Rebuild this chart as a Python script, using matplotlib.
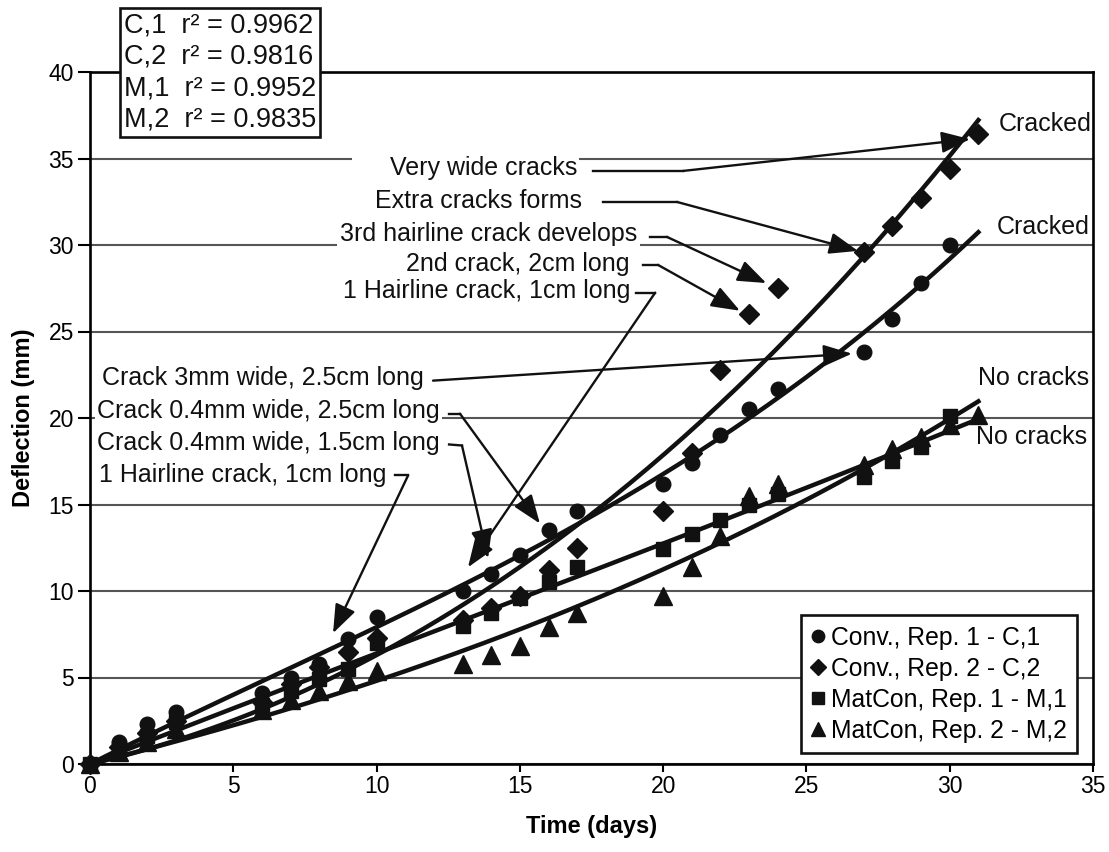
import numpy as np
import matplotlib
matplotlib.use('Agg')
import matplotlib.pyplot as plt
from matplotlib.lines import Line2D

plt.rcParams['font.family'] = ['Liberation Sans', 'DejaVu Sans']

# days of measurement
days_c1 = [0, 1, 2, 3, 6, 7, 8, 9, 10, 13, 14, 15, 16, 17, 20, 21, 22, 23, 24, 27, 28, 29, 30]
days_c2 = [0, 1, 2, 3, 6, 7, 8, 9, 10, 13, 14, 15, 16, 17, 20, 21, 22, 23, 24, 27, 28, 29, 30, 31]
days_m1 = [0, 1, 2, 3, 6, 7, 8, 9, 10, 13, 14, 15, 16, 17, 20, 21, 22, 23, 24, 27, 28, 29, 30]
days_m2 = [0, 1, 2, 3, 6, 7, 8, 9, 10, 13, 14, 15, 16, 17, 20, 21, 22, 23, 24, 27, 28, 29, 30, 31]

# deflection (mm)
defl_c1 = [0, 1.3, 2.3, 3.0, 4.1, 5.0, 5.8, 7.2, 8.5, 10.0, 11.0, 12.1, 13.5, 14.6, 16.2, 17.4,
           19.0, 20.5, 21.7, 23.8, 25.7, 27.8, 30.0]
defl_c2 = [0, 1.0, 1.8, 2.5, 3.6, 4.6, 5.6, 6.5, 7.3, 8.3, 9.0, 9.7, 11.2, 12.5, 14.6, 18.0,
           22.8, 26.0, 27.5, 29.6, 31.1, 32.7, 34.4, 36.4]
defl_m1 = [0, 0.9, 1.6, 2.4, 3.4, 4.2, 4.9, 5.5, 7.0, 8.0, 8.7, 9.6, 10.5, 11.4, 12.4, 13.3,
           14.1, 15.0, 15.6, 16.6, 17.5, 18.3, 20.1]
defl_m2 = [0, 0.7, 1.3, 2.0, 3.1, 3.7, 4.2, 4.8, 5.4, 5.8, 6.3, 6.8, 7.9, 8.7, 9.7, 11.4,
           13.2, 15.5, 16.2, 17.3, 18.2, 18.9, 19.6, 20.2]

series_labels = ['Conv., Rep. 1 - C,1', 'Conv., Rep. 2 - C,2',
                 'MatCon, Rep. 1 - M,1', 'MatCon, Rep. 2 - M,2']
r2_text = ['C,1  r\u00b2 = 0.9962', 'C,2  r\u00b2 = 0.9816',
           'M,1  r\u00b2 = 0.9952', 'M,2  r\u00b2 = 0.9835']
end_labels = ['Cracked', 'Cracked', 'No cracks', 'No cracks']

fig = plt.figure(figsize=(11.09, 8.52), dpi=100)
ax = fig.add_axes([90/1109, 1-764/852, 1003/1109, 692/852])

ax.set_xlim(0, 35)
ax.set_ylim(0, 40)
ax.set_xticks(np.arange(0, 36, 5))
ax.set_yticks(np.arange(0, 41, 5))
ax.yaxis.grid(True, color='#555555', lw=1.5)
ax.set_axisbelow(True)
for s in ax.spines.values():
    s.set_linewidth(1.9)
ax.tick_params(axis='y', length=8.5, width=1.5, pad=3, labelsize=16.5)
ax.tick_params(axis='x', length=6, width=1.5, pad=2, labelsize=16.5)

ax.set_xlabel('Time (days)', fontsize=17, fontweight='bold', labelpad=12)
ax.set_ylabel('Deflection (mm)', fontsize=17, fontweight='bold', labelpad=10)

markers = [('o', 10.5), ('D', 10), ('s', 9.5), ('^', 12.5)]
data = [(days_c1, defl_c1), (days_c2, defl_c2), (days_m1, defl_m1), (days_m2, defl_m2)]

# third order trend lines through the origin
xfit = np.linspace(0, 31, 200)
for (d, v), (m, ms) in zip(data, markers):
    d = np.array(d, dtype=float)
    A = np.column_stack([d, d**2, d**3])
    c = np.linalg.lstsq(A, np.array(v), rcond=None)[0]
    ax.plot(xfit, c[0]*xfit + c[1]*xfit**2 + c[2]*xfit**3, color='#111111', lw=3.2, zorder=3)
    ax.plot(d, v, ls='none', marker=m, ms=ms, color='#111111', zorder=4, clip_on=False)

# text with leader lines and arrows
def note(text, tx, ty, path):
    ax.text(tx, ty, text, ha='right', va='center', fontsize=18, color='#111111',
            bbox=dict(boxstyle='square,pad=0.1', fc='white', ec='none'), zorder=5)
    xs = [p[0] for p in path]
    ys = [p[1] for p in path]
    ax.plot(xs[:-1], ys[:-1], color='#111111', lw=1.7, zorder=6)
    ax.annotate('', xy=path[-1], xytext=path[-2],
                arrowprops=dict(arrowstyle='-|>,head_length=0.8,head_width=0.3', color='#111111',
                                lw=1.7, shrinkA=0, shrinkB=0, mutation_scale=22), zorder=6)

note('     Very wide cracks', 16.99, 34.45, [(17.55, 34.28), (20.69, 34.28), (30.71, 36.12)])
note('Extra cracks forms', 17.17, 32.55, [(17.9, 32.49), (20.48, 32.49), (26.8, 29.66)])
note('3rd hairline crack develops', 19.09, 30.64, [(19.54, 30.47), (20.13, 30.47), (23.6, 27.8)])
note('2nd crack, 2cm long', 18.84, 28.9, [(19.3, 28.85), (19.82, 28.85), (22.68, 26.2)])
note('1 Hairline crack, 1cm long', 18.84, 27.35, [(19.05, 27.24), (19.72, 27.24), (13.19, 11.37)])
note('Crack 3mm wide, 2.5cm long', 11.66, 22.33, [(11.97, 22.16), (26.59, 23.72)])
note('Crack 0.4mm wide, 2.5cm long', 12.21, 20.43, [(12.53, 20.25), (12.91, 20.25), (15.7, 13.9)])
note('Crack 0.4mm wide, 1.5cm long', 12.21, 18.58, [(12.53, 18.47), (12.98, 18.41), (13.89, 11.89)])
note('1 Hairline crack, 1cm long', 10.33, 16.73, [(10.64, 16.68), (11.1, 16.68), (8.48, 7.56)])

# labels at the end of the curves
for lab, lx, ly in zip(end_labels, [31.7, 31.65, 31.0, 30.9], [37.0, 31.05, 22.3, 18.9]):
    ax.text(lx, ly, lab, ha='left', va='center', fontsize=18, color='#111111')

# r squared box
fig.text(124/1109, 1-12/852, '\n'.join(r2_text), ha='left', va='top', fontsize=19.5,
         color='#111111', linespacing=1.28,
         bbox=dict(boxstyle='square,pad=0.15', fc='white', ec='#111111', lw=1.9))

handles = [Line2D([0], [0], ls='none', marker=m, ms=ms * 0.85, color='#111111')
           for m, ms in markers]
leg = ax.legend(handles, series_labels, loc='lower right', bbox_to_anchor=(0.984, 0.016),
                borderaxespad=0, fontsize=17.8, frameon=True, fancybox=False, framealpha=1,
                edgecolor='#111111', handlelength=0.6, handletextpad=0.2, labelspacing=0.28,
                borderpad=0.42)
leg.get_frame().set_linewidth(1.9)

plt.savefig('out.png', dpi=100)
